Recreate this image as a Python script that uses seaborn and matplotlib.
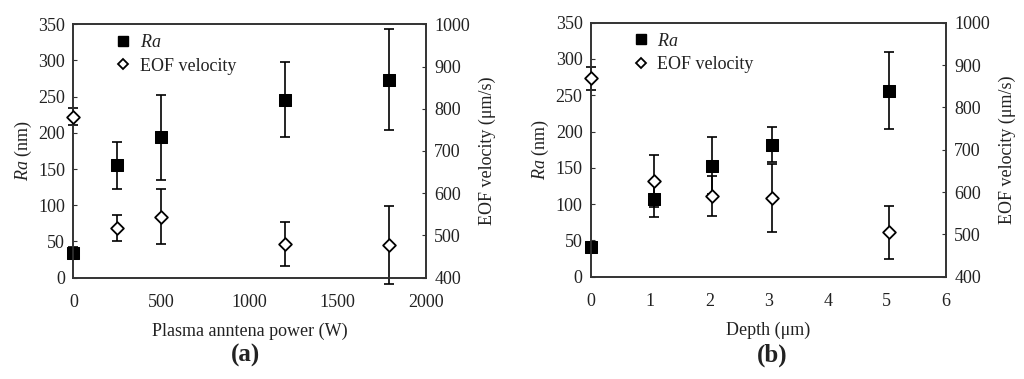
import matplotlib
matplotlib.use("Agg")
import matplotlib.pyplot as plt
import seaborn as sns
import pandas as pd

sns.set_style("white")
plt.rcParams['font.family'] = ['Liberation Serif', 'DejaVu Serif']
plt.rcParams['mathtext.fontset'] = 'custom'
plt.rcParams['mathtext.rm'] = 'Liberation Serif'
plt.rcParams['mathtext.it'] = 'Liberation Serif:italic'
plt.rcParams['mathtext.bf'] = 'Liberation Serif:bold'

# panel (a): plasma antenna power
power = [0, 250, 500, 1200, 1790]
ra_a = [34.5, 155, 194, 246, 273.5]
ra_a_err = [8, 33, 59, 52, 70]
eof_a = [781, 518, 544, 480, 477]
eof_a_err = [20, 31, 65, 52, 92]

# panel (b): depth
depth = [0, 1.07, 2.05, 3.06, 5.03]
ra_b = [41, 107.5, 153, 182, 256]
ra_b_err = [7, 25, 39, 24, 53]
eof_b = [869, 626, 591, 586, 505]
eof_b_err = [27, 62, 47, 81, 62]

df_a = pd.DataFrame({'x': power, 'ra': ra_a, 'ra_err': ra_a_err, 'eof': eof_a, 'eof_err': eof_a_err})
df_b = pd.DataFrame({'x': depth, 'ra': ra_b, 'ra_err': ra_b_err, 'eof': eof_b, 'eof_err': eof_b_err})

fig = plt.figure(figsize=(10.24, 3.79), dpi=100)
ax_a = fig.add_axes([0.0716, 0.2673, 0.3444, 0.6686])
ax_b = fig.add_axes([0.5771, 0.2699, 0.3467, 0.6702])

fs = 13
txt = '#222222'


def draw(ax, df, xlim, xticks, xlabel):
    ax2 = ax.twinx()
    sns.scatterplot(data=df, x='x', y='ra', ax=ax, marker='s', s=85, color='black',
                    edgecolor='black', zorder=3, clip_on=False, legend=False)
    ax.errorbar(df['x'], df['ra'], yerr=df['ra_err'], fmt='none', ecolor='black',
                elinewidth=1.2, capsize=3.5, capthick=1.2, zorder=2, clip_on=False)
    sns.scatterplot(data=df, x='x', y='eof', ax=ax2, marker='D', s=42, color='white',
                    edgecolor='black', linewidth=1.3, zorder=3, clip_on=False, legend=False)
    ax2.errorbar(df['x'], df['eof'], yerr=df['eof_err'], fmt='none', ecolor='black',
                 elinewidth=1.2, capsize=3.5, capthick=1.2, zorder=2, clip_on=False)

    ax.set_xlim(xlim)
    ax.set_xticks(xticks)
    ax.set_ylim(0, 350)
    ax.set_yticks(range(0, 351, 50))
    ax2.set_ylim(400, 1000)
    ax2.set_yticks(range(400, 1001, 100))

    ax.set_xlabel(xlabel, fontsize=fs, labelpad=8, color=txt)
    ax.set_ylabel('$Ra$ (nm)', fontsize=fs, labelpad=3, color=txt)
    ax2.set_ylabel('EOF velocity (μm/s)', fontsize=fs, labelpad=6, color=txt)

    ax.tick_params(axis='x', length=0, labelsize=fs, pad=12, labelcolor=txt)
    ax.tick_params(axis='y', direction='in', length=3, labelsize=fs, pad=6,
                   color='#333333', labelcolor=txt)
    ax2.tick_params(axis='y', direction='in', length=3, labelsize=fs, pad=6,
                    color='#333333', labelcolor=txt)
    for a in (ax, ax2):
        for sp in a.spines.values():
            sp.set_color('#333333')
            sp.set_linewidth(1.2)

    h1 = plt.Line2D([], [], marker='s', color='black', linestyle='none', markersize=6.5)
    h2 = plt.Line2D([], [], marker='D', markerfacecolor='white', markeredgecolor='black',
                    markeredgewidth=1.3, linestyle='none', markersize=5)
    leg = ax.legend([h1, h2], ['$Ra$', 'EOF velocity'], loc='upper left',
                    bbox_to_anchor=(0.07, 1.025), frameon=False, fontsize=fs,
                    handletextpad=0.4, labelspacing=0.35, handlelength=1.0)
    for t in leg.get_texts():
        t.set_color(txt)


draw(ax_a, df_a, (0, 2000), [0, 500, 1000, 1500, 2000], 'Plasma anntena power (W)')
draw(ax_b, df_b, (0, 6), [0, 1, 2, 3, 4, 5, 6], 'Depth (μm)')

fig.text(246 / 1024, 1 - 355 / 379, '(a)', ha='center', va='center', fontsize=18,
         fontweight='bold', color=txt)
fig.text(772 / 1024, 1 - 355 / 379, '(b)', ha='center', va='center', fontsize=18,
         fontweight='bold', color=txt)

fig.savefig('out.png', dpi=100, facecolor='white')
